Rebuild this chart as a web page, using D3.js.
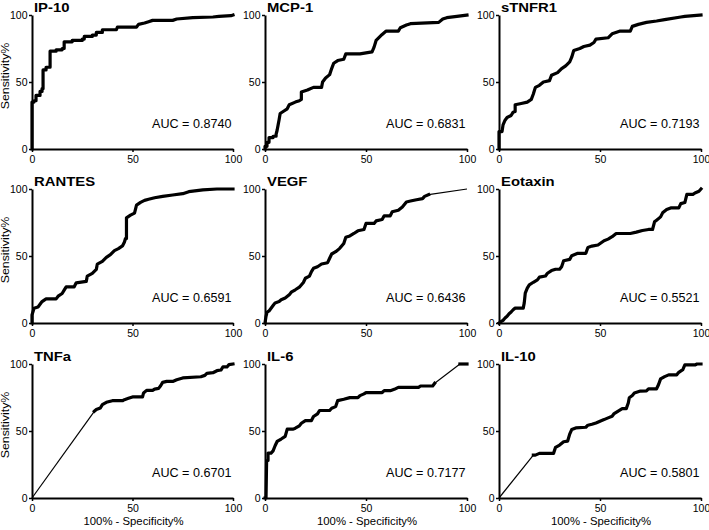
<!DOCTYPE html>
<html>
<head>
<meta charset="utf-8">
<script src="https://cdn.jsdelivr.net/npm/d3@7"></script>
<style>
  html, body { margin: 0; padding: 0; background: #fff; }
  svg { display: block; }
  text { font-family: "Liberation Sans", Arial, sans-serif; fill: #000; }
</style>
</head>
<body>
<svg id="chart" width="709" height="530"></svg>
<script>
// ---------- DATA ----------
const panelNames = ["IP-10", "MCP-1", "sTNFR1", "RANTES", "VEGF", "Eotaxin", "TNFa", "IL-6", "IL-10"];
const aucValues = ["0.8740", "0.6831", "0.7193", "0.6591", "0.6436", "0.5521", "0.6701", "0.7177", "0.5801"];
const xTicks = [0, 50, 100];
const yTicks = [0, 50, 100];
const xAxisTitle = "100% - Specificity%";
const yAxisTitle = "Sensitivity%";

// [100% - Specificity%, Sensitivity%]
const ip10 = [[0,0],[0,35],[1,35],[1,36],[2,36],[2,40],[4,40],[4,43],[5,43],[5,45],[5.5,45],[5.5,59],[7,59],[7,61],[9,61],[9,73],[12,73],[12,74],[15,74],[15,75],[16,75],[16,80],[20,80],[20,81],[25,81],[25,82],[26,82],[26,84],[30,84],[30,85],[32,85],[32,87],[35,87],[35,89],[42,89],[42.5,91],[52,91],[53,93],[56,94],[58,95],[60,96],[70,96],[72,97],[80,98],[90,98.5],[93,99],[99,99.5],[100,100]];
const mcp1 = [[0,0],[0,2],[1,2],[1,5],[2,5],[2,8.5],[4,8.5],[4,9.5],[5.5,9.5],[5.5,11],[6,14],[6.5,18],[7,22],[7.5,26.5],[9,28],[11,30],[12,33],[15,35],[17,36],[18,37],[18,42.5],[21,44],[24,46],[28,46],[28.5,50],[30,53],[32,55.5],[33,60],[34,64],[36,66],[39,67],[40,71],[47,71],[53,72.5],[54,76],[55,81],[58,85.5],[60,88],[66,88],[67,90.5],[70,92.5],[72,93.5],[86,94.5],[88,97],[90,98],[95,99],[100,100]];
const stnfr1 = [[0,0],[0,13],[1.5,13],[2,18],[3,21.5],[4,23.5],[6,25],[7,27.5],[8,28],[8,33],[11,34],[14,35],[16,37],[17,41],[18,46],[20,47.5],[22,50],[25,51],[26,55],[29,57],[31,60],[33,62],[35,65],[36,68.5],[37,73.5],[40,75],[42,76.5],[45,77.5],[47,79.5],[48,82],[54,83],[56,86],[60,88],[65,88],[66,91.5],[69,93],[73,94.5],[78,95.5],[82,96.5],[90,98.5],[92,99],[100,100]];
const rantes = [[0,0],[0,6],[1,11],[3,12],[4,14],[5,16],[7,18],[12,18],[13,20],[15,22],[16,24.5],[17,27],[21,27],[22,30],[27,31],[27.5,35],[30,37],[32,40],[32.5,44],[35,46],[37,49],[39,51],[41,54],[43,55.5],[45,57.5],[46,60.5],[46.5,63],[47,63],[47,78.5],[49,80.5],[51,82],[52,88],[54,90],[56,91.5],[58,92.3],[61,93.5],[65,94.5],[70,95.5],[75,96.5],[78,98],[85,99.3],[92,100],[100,100]];
const vegf = [[0,0],[0.5,5],[1,8],[2,9],[3,11],[4,13],[5,15],[7,16],[8,17.3],[10,18.6],[12,21],[13,23],[15,24.8],[17,26.7],[19,30.2],[20,33.4],[22,35],[23,38.4],[24,40.8],[26,42],[28,44],[31,45],[32,48.3],[33,51.5],[35,53.2],[37,55.7],[39,59.4],[40,64],[42,65],[44,66.8],[46,68.8],[49,69.8],[50,74.3],[54,74.3],[55,76.2],[58,77.2],[59,80],[62,80],[63,83],[66,84.2],[68,86.6],[70,90.3],[72,91],[75,92],[78,92.8],[79,94.5],[81,95.8],[100,100]];
const eotaxin = [[0,0],[1,1],[2,2],[3,3.7],[4,5],[5,6.9],[6,8.2],[7,9.9],[8,11.1],[12,11.1],[12.5,15],[13,22.3],[14,26],[15,28.5],[17,30.4],[19,32.2],[20,34.2],[23,35.1],[24,37.1],[26,39.1],[28,40.1],[30,40.1],[31,42],[32,46.5],[35,47.5],[36,50.2],[39,52],[43,52],[44,56.4],[46,57.4],[49,58.2],[52,61.4],[54,62.6],[56,64.4],[58,66.8],[65,66.8],[68,67.8],[71,69],[74,69.8],[76,69.8],[77,75.5],[78,76.7],[80,79.2],[81,82.2],[83,84.7],[85,85.9],[89,85.9],[90,89.1],[92,89.9],[93,96],[96,96],[97,97],[99,98.3],[100,100]];
const tnfa = [[0,0],[31,64.7],[32,66],[34,67.2],[35,69.7],[37,71.4],[40,72.6],[45,72.6],[46,73.4],[48,74.4],[50,75.4],[55,75.4],[55.5,78.4],[57,80.3],[60,80.3],[61,81.3],[63,81.8],[64,83.8],[65,86.3],[67,87],[70,87],[72,88.3],[75,89.6],[84,90.5],[86,91.5],[87,93],[90,93.5],[92,95],[94,95.5],[95,97.8],[97,97.8],[98,99.5],[100,100]];
const il6 = [[0,0],[0.5,0],[0.8,28],[1.5,28],[1.5,33.5],[3,33.5],[4,35.2],[5,39],[6,42.2],[8,44],[10,46],[11,51.4],[14,51.4],[15,52.1],[17,53.8],[18,55.8],[20,57.8],[23,57.8],[24,60.8],[26,62.8],[27,65.3],[32,65.3],[33,67],[35,68.2],[36,72.7],[39,73.7],[42,74.9],[46,74.9],[47,76.4],[49,77.7],[50,78.7],[58,78.7],[59,80.1],[62,80.1],[64,81.1],[66,82.6],[76,82.6],[77,83.6],[83,83.6],[84,85.6],[96.5,100],[100,100]];
const il10 = [[0,0],[17,32],[18,32],[20,33.3],[27,33.3],[28,37.8],[30,39.5],[32,42],[34,42.5],[35,47.7],[36,51.1],[38,52.3],[43,52.8],[44,54.3],[46,55],[48,56],[50,57.3],[52,58.5],[54,59.8],[56,61],[57,63],[59,64.9],[61,66.7],[63,66.7],[64,70.9],[64.5,74.8],[66,76.5],[67,78.3],[70,79.8],[73,80],[74,81.5],[78,81.5],[79,84.7],[80,88.9],[82,90.6],[84,91.9],[88,91.9],[89,93.8],[91,95.8],[92,99.3],[97,99.3],[98,100],[100,100]];

const curves = [ip10, mcp1, stnfr1, rantes, vegf, eotaxin, tnfa, il6, il10];

// ---------- LAYOUT ----------
const cols = [{x0: 32, x1: 233}, {x0: 265, x1: 467}, {x0: 499, x1: 701}];
const rows = [{y0: 149, y1: 15}, {y0: 323, y1: 189}, {y0: 498, y1: 364}];
const FONT = '"Liberation Sans", Arial, sans-serif';

const svg = d3.select("#chart");

function stretchedText(parent, x, y, sx, size, anchor, str, bold, rot) {
  const t = parent.append("text")
    .attr("transform", `translate(${x},${y})${rot ? " rotate(" + rot + ")" : ""} scale(${sx},1)`)
    .attr("text-anchor", anchor)
    .style("font-size", size + "px")
    .style("font-family", FONT)
    .text(str);
  if (bold) t.style("font-weight", "bold");
  return t;
}

panelNames.forEach((name, i) => {
  const c = cols[i % 3], r = rows[Math.floor(i / 3)];
  const x = d3.scaleLinear().domain([0, 100]).range([c.x0, c.x1]);
  const y = d3.scaleLinear().domain([0, 100]).range([r.y0, r.y1]);
  const g = svg.append("g");

  // axes
  const ya = g.append("g").attr("transform", `translate(${c.x0},0)`)
    .call(d3.axisLeft(y).tickValues(yTicks).tickSize(3).tickSizeOuter(0).tickPadding(1.5));
  const xa = g.append("g").attr("transform", `translate(0,${r.y0})`)
    .call(d3.axisBottom(x).tickValues(xTicks).tickSize(3).tickSizeOuter(0).tickPadding(4));
  [ya, xa].forEach(a => {
    a.select(".domain").attr("stroke", "#000").attr("stroke-width", 2);
    a.selectAll(".tick line").attr("stroke", "#000").attr("stroke-width", 1.5);
    a.selectAll(".tick text").style("font-size", "10.5px").style("font-family", FONT).attr("fill", "#000");
  });

  // curve: dense runs thick, long sparse diagonals thin
  const pts = curves[i];
  const line = d3.line().x(d => x(d[0])).y(d => y(d[1]));
  let run = [pts[0]];
  const runs = [], thins = [];
  for (let k = 1; k < pts.length; k++) {
    const a = pts[k - 1], b = pts[k];
    const dx = Math.abs(b[0] - a[0]), dy = Math.abs(b[1] - a[1]);
    const thin = Math.hypot(dx, dy) > 12 && dx > 3 && dy > 3;
    if (thin) {
      if (run.length > 1) runs.push(run);
      thins.push([a, b]);
      run = [b];
    } else {
      run.push(b);
    }
  }
  if (run.length > 1) runs.push(run);
  thins.forEach(s => g.append("path").attr("d", line(s)).attr("fill", "none")
    .attr("stroke", "#000").attr("stroke-width", 1.2));
  runs.forEach(s => g.append("path").attr("d", line(s)).attr("fill", "none")
    .attr("stroke", "#000").attr("stroke-width", 3.2)
    .attr("stroke-linejoin", "round").attr("stroke-linecap", "square"));

  // title
  stretchedText(g, c.x0 + 2, r.y1 - 3.5, 1.1, 13.5, "start", name, true);
  // AUC
  stretchedText(g, c.x1 - 1.5, r.y0 - 21.5, 1.05, 12, "end", "AUC = " + aucValues[i], false);

  if (i % 3 === 0) {
    stretchedText(g, 8.5, (r.y0 + r.y1) / 2 - 6, 1.18, 10.5, "middle", yAxisTitle, false, -90);
  }
  if (Math.floor(i / 3) === 2) {
    stretchedText(g, (c.x0 + c.x1) / 2 + 1, 525, 1.08, 10.5, "middle", xAxisTitle, false);
  }
});
</script>
</body>
</html>
